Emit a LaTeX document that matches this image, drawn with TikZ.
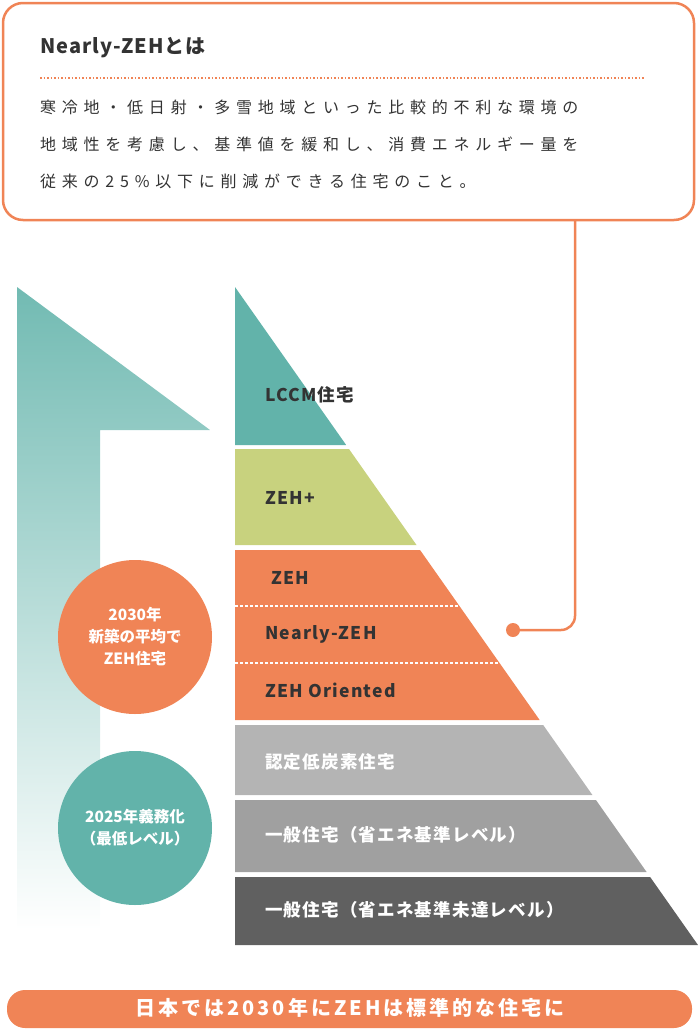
\documentclass[tikz,border=0pt]{standalone}
\usepackage{fontspec}
\setmainfont{Noto Sans CJK JP}
\usetikzlibrary{shadings}
\definecolor{org}{HTML}{F08456}
\definecolor{teal}{HTML}{62B3AA}
\definecolor{lime}{HTML}{C8D27E}
\definecolor{gA}{HTML}{B4B4B4}
\definecolor{gB}{HTML}{A0A0A0}
\definecolor{gC}{HTML}{606060}
\definecolor{txt}{HTML}{333333}
\tikzset{lab/.style={anchor=west,font=\bfseries\fontsize{17.5}{20}\selectfont\addfontfeatures{LetterSpace=7},text=txt,inner sep=0},
ctext/.style={text=white,font=\bfseries\fontsize{15.5}{22}\selectfont,align=center}}
\begin{document}
\begin{tikzpicture}[x=1pt,y=-1pt]
\useasboundingbox (0,0) rectangle (700,1031);
\def\rx#1{235+0.7036*(#1-287)}
% top box
\draw[org,line width=2.5pt,rounded corners=20,fill=white] (3,3) rectangle (694,220);
\node[anchor=west,inner sep=0,text=txt,font=\bfseries\fontsize{20}{24}\selectfont\addfontfeatures{LetterSpace=5}] (title) at (40,48) {Nearly-ZEHとは};
\draw[org,line width=1.5pt,dotted] (40,78) -- (645,78);
\node[anchor=west,inner sep=0,text=txt,font=\fontsize{16}{37}\selectfont\addfontfeatures{LetterSpace=36},align=left] (body) at (40,144) {寒冷地・低日射・多雪地域といった比較的不利な環境の\\地域性を考慮し、基準値を緩和し、消費エネルギー量を\\従来の25\%以下に削減ができる住宅のこと。};
% arrow
\shade[top color=teal!90,bottom color=white] (17,287) -- (210,430) -- (100,430) -- (100,930) -- (17,930) -- cycle;
% pyramid bands
\fill[teal] (235,287) -- ({\rx{445}},445) -- (235,445) -- cycle;
\fill[lime] (235,449) -- ({\rx{449}},449) -- ({\rx{545}},545) -- (235,545) -- cycle;
\fill[org] (235,550) -- ({\rx{550}},550) -- ({\rx{720}},720) -- (235,720) -- cycle;
\fill[gA] (235,725) -- ({\rx{725}},725) -- ({\rx{795}},795) -- (235,795) -- cycle;
\fill[gB] (235,800) -- ({\rx{800}},800) -- ({\rx{872}},872) -- (235,872) -- cycle;
\fill[gC] (235,877) -- ({\rx{877}},877) -- ({\rx{945}},945) -- (235,945) -- cycle;
\draw[white,line width=1.2pt,dash pattern=on 3pt off 2pt] (235,606) -- ({\rx{606}},606);
\draw[white,line width=1.2pt,dash pattern=on 3pt off 2pt] (235,663) -- ({\rx{663}},663);
\node[lab] (l1) at (265,395) {LCCM住宅};
\node[lab] (l2) at (265,498) {ZEH+};
\node[lab] (l3) at (271,578) {ZEH};
\node[lab] (l4) at (265,634) {Nearly-ZEH};
\node[lab] (l5) at (265,690) {ZEH Oriented};
\node[lab,text=white] (l6) at (265,762) {認定低炭素住宅};
\node[lab,text=white] (l7) at (265,835) {一般住宅（省エネ基準レベル）};
\node[lab,text=white] (l8) at (265,910) {一般住宅（省エネ基準未達レベル）};
% connector
\fill[org] (513,630) circle (7);
\coordinate (dot) at (513,630);
\coordinate (top) at (575,220);
\draw[org,line width=2.5pt,rounded corners=14] (top) -- (575,630) -- (dot);
% circles
\node[circle,fill=org,minimum size=154,ctext] (c1) at (135,637) {2030年\\新築の平均で\\ZEH住宅};
\node[circle,fill=teal,minimum size=154,ctext] (c2) at (135,828) {2025年義務化\\（最低レベル）};
% banner
\fill[org,rounded corners=18] (7,990) rectangle (692,1028);
\node[text=white,font=\bfseries\fontsize{20}{22}\selectfont\addfontfeatures{LetterSpace=15}] (ban) at (350,1008) {日本では2030年にZEHは標準的な住宅に};
\end{tikzpicture}
\end{document}
